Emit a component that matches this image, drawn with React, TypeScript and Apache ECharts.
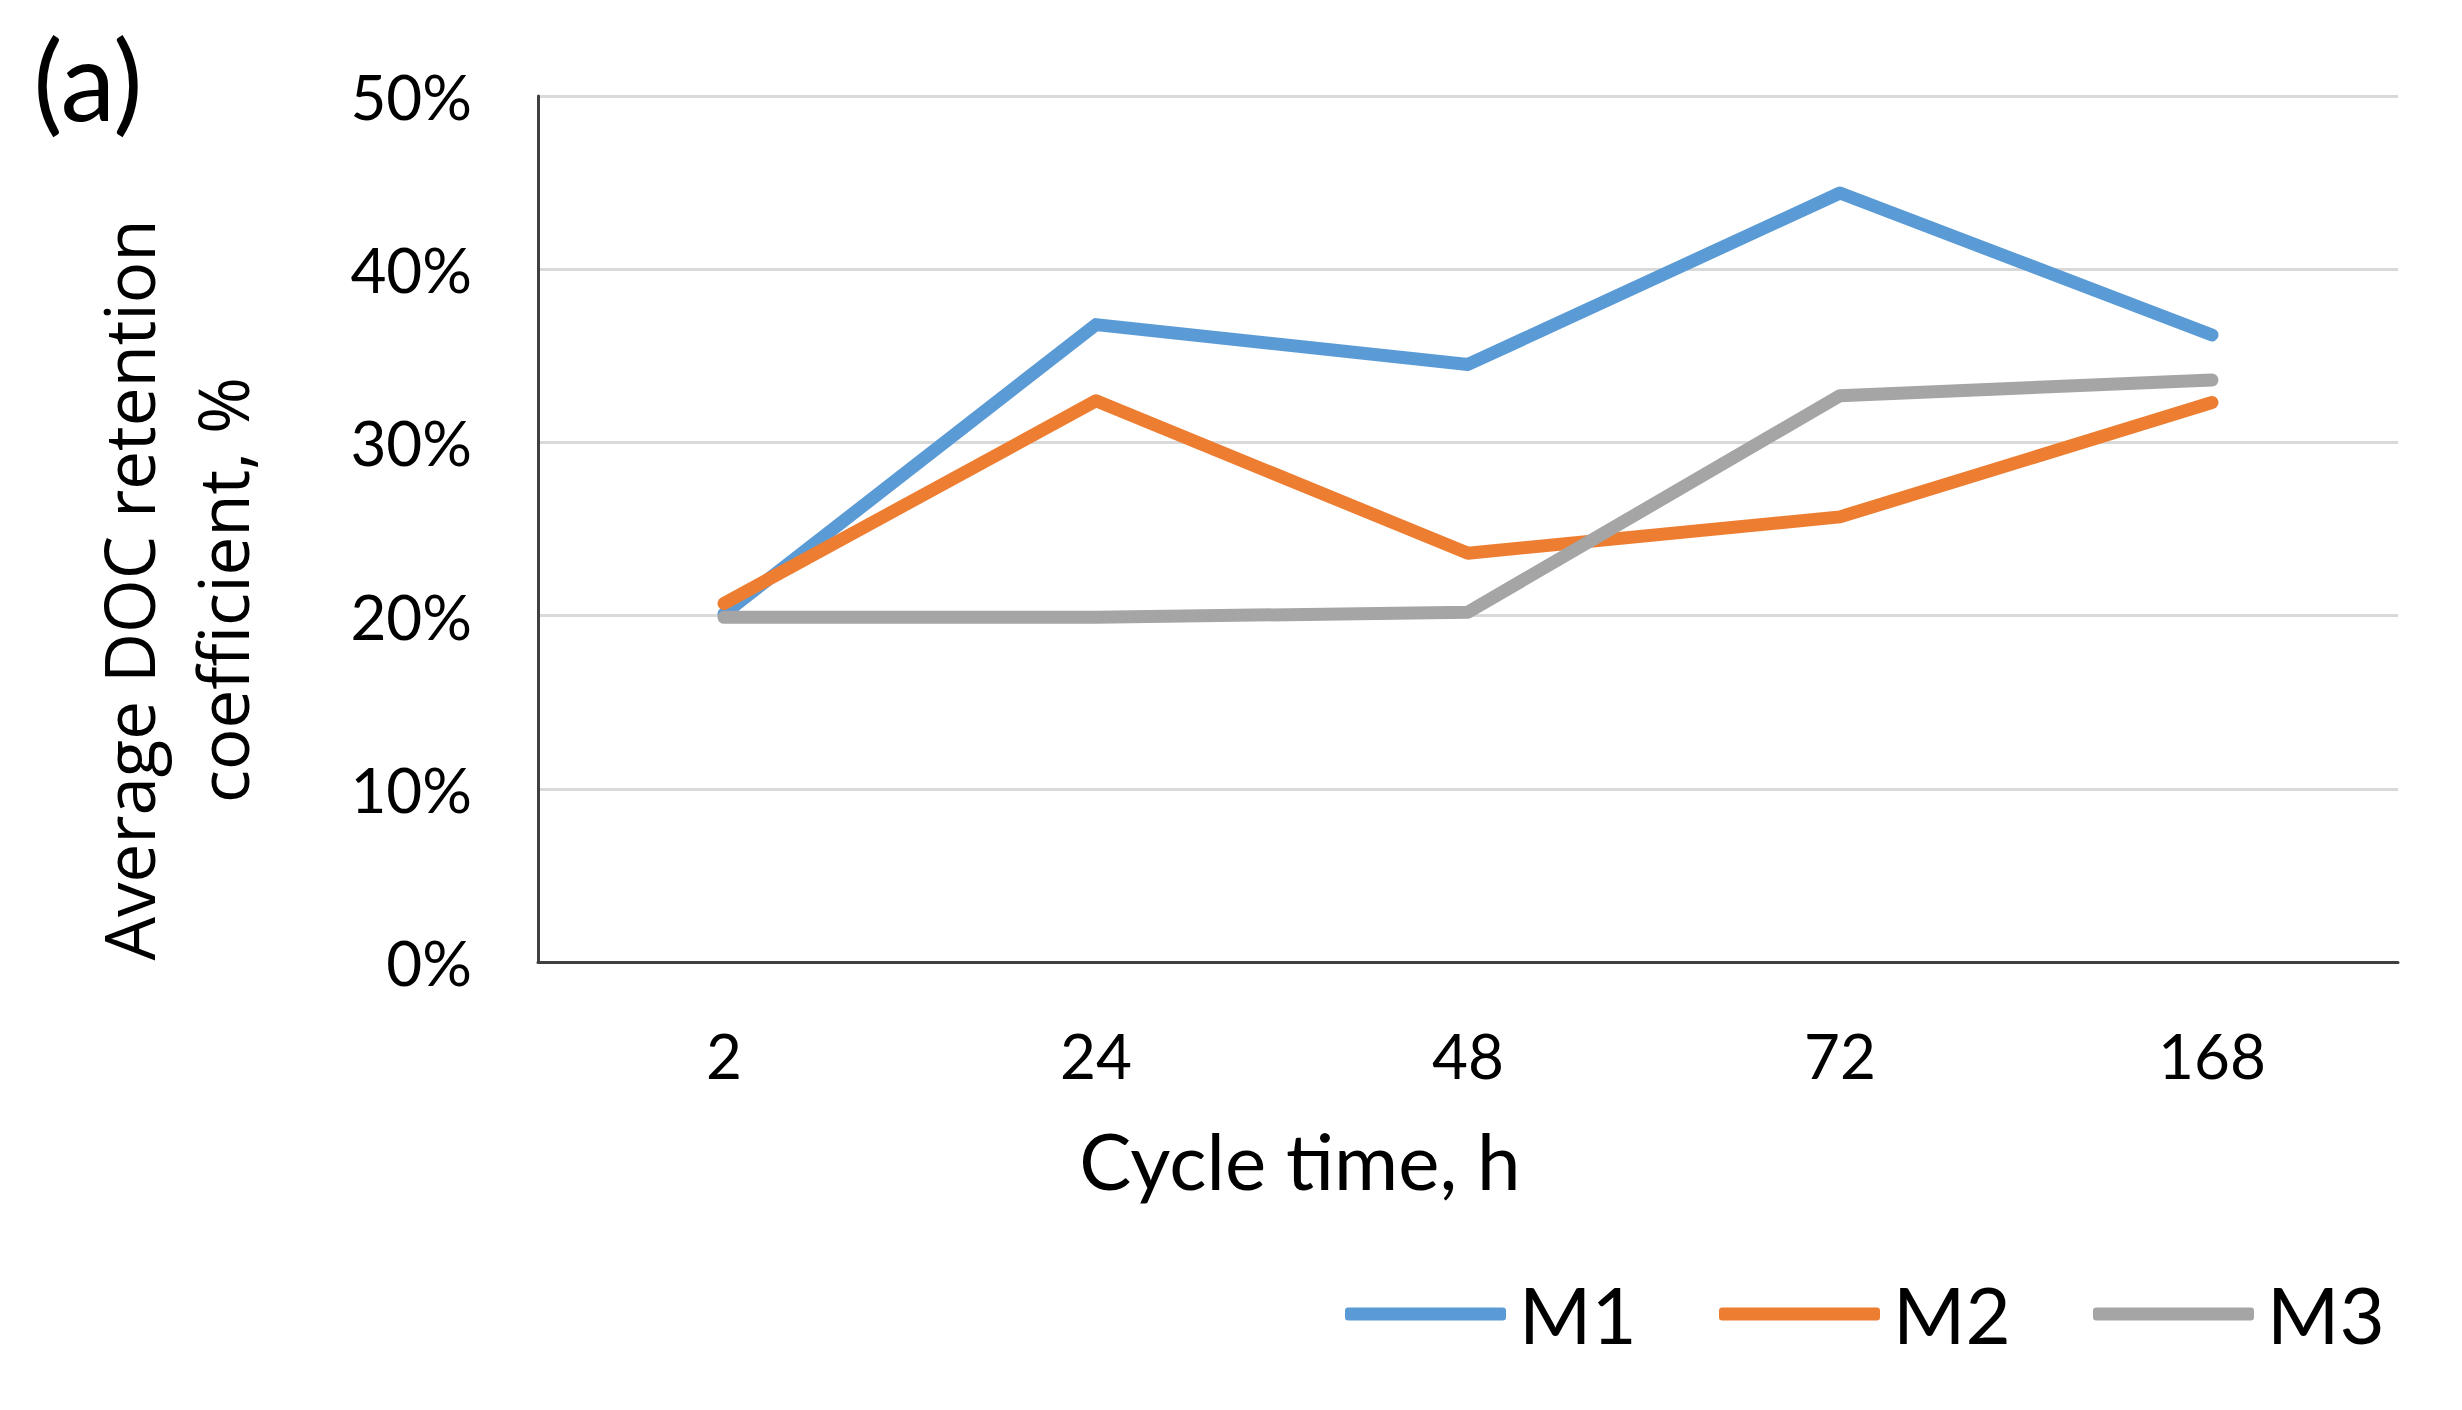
import React, { useEffect, useRef } from "react";
import * as echarts from "echarts";

const categories = ["2", "24", "48", "72", "168"];
const seriesNames = ["M1", "M2", "M3"];
const m1Values = [0.201, 0.368, 0.345, 0.444, 0.362];
const m2Values = [0.207, 0.324, 0.236, 0.257, 0.323];
const m3Values = [0.199, 0.199, 0.202, 0.327, 0.336];
const seriesColors = ["#5B9BD5", "#ED7D31", "#A5A5A5"];
const yMin = 0;
const yMax = 0.5;
const yStep = 0.1;
const xTitle = "Cycle time, h";
const yTitle = "Average DOC retention\ncoefficient, %";
const panelLabel = "(a)";

const narrow = "Lato, 'Open Sans', sans-serif";

export default function App() {
  const ref = useRef<HTMLDivElement>(null);
  useEffect(() => {
    document.body.style.margin = "0";
    const chart = echarts.init(ref.current!, null, { renderer: "svg" });
    const values = [m1Values, m2Values, m3Values];
    const legendLefts = [1345, 1719, 2093];
    chart.setOption({
      animation: false,
      backgroundColor: "#ffffff",
      grid: { left: 538, right: 64, top: 96, bottom: 448, containLabel: false },
      xAxis: {
        type: "category",
        data: categories,
        boundaryGap: true,
        axisTick: { show: false },
        axisLine: { show: true, lineStyle: { color: "#404040", width: 3 } },
        axisLabel: { color: "#000", fontSize: 62, fontFamily: narrow, margin: 62 },
        splitLine: { show: false },
      },
      yAxis: {
        type: "value",
        min: yMin,
        max: yMax,
        interval: yStep,
        axisTick: { show: false },
        axisLine: { show: true, lineStyle: { color: "#404040", width: 3 } },
        axisLabel: {
          color: "#000",
          fontSize: 62,
          fontFamily: narrow,
          margin: 66,
          formatter: (v: number) => Math.round(v * 100) + "%",
        },
        splitLine: { show: true, lineStyle: { color: "#D9D9D9", width: 3 } },
      },
      legend: seriesNames.map((n, i) => ({
        data: [n],
        left: legendLefts[i],
        top: 1269,
        padding: 0,
        itemWidth: 161,
        itemHeight: 13,
        icon: "roundRect",
        textStyle: {
          fontSize: 78,
          fontFamily: narrow,
          color: "#000",
          lineHeight: 90,
          padding: [0, 0, 0, 8],
        },
      })),
      series: seriesNames.map((n, i) => ({
        name: n,
        type: "line",
        data: values[i],
        showSymbol: false,
        symbol: "none",
        color: seriesColors[i],
        lineStyle: { width: 13, color: seriesColors[i], cap: "round", join: "round" },
        itemStyle: { color: seriesColors[i] },
      })),
      graphic: [
        {
          type: "text",
          x: 88,
          y: 78,
          style: {
            text: panelLabel,
            fontSize: 110,
            fontFamily: narrow,
            fill: "#000",
            textAlign: "center",
            textVerticalAlign: "middle",
          },
        },
        {
          type: "text",
          x: 175,
          y: 590,
          rotation: Math.PI / 2,
          style: {
            text: yTitle,
            fontSize: 69,
            lineHeight: 94,
            fontFamily: "'Open Sans', sans-serif",
            fill: "#000",
            textAlign: "center",
            textVerticalAlign: "middle",
          },
        },
        {
          type: "text",
          x: 1300,
          y: 1160,
          style: {
            text: xTitle,
            fontSize: 78,
            fontFamily: narrow,
            fill: "#000",
            textAlign: "center",
            textVerticalAlign: "middle",
          },
        },
      ],
    });
    return () => chart.dispose();
  }, []);
  return <div ref={ref} style={{ width: 2462, height: 1410 }} />;
}
